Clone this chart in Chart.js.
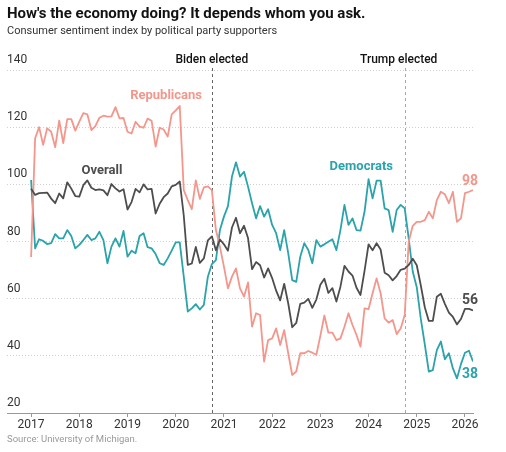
<!DOCTYPE html>
<html>
<head>
<meta charset="utf-8">
<script src="https://cdn.jsdelivr.net/npm/chart.js@4.4.0/dist/chart.umd.min.js"></script>
<style>
  body { margin: 0; background: #fff; width: 506px; height: 452px; overflow: hidden; position: relative; font-family: Roboto, "Noto Sans", sans-serif; }
  canvas { position: absolute; left: 0; top: 0; }
  .txt { position: absolute; left: 7px; white-space: nowrap; }
  #titulo { top: 4px; font-size: 15px; font-weight: 700; color: #121212; }
  #subtitulo { top: 24px; font-size: 11px; color: #333; }
  #fuente { top: 433px; font-size: 9.5px; color: #999; }
</style>
</head>
<body>
<canvas id="chart" width="506" height="452"></canvas>
<div class="txt" id="titulo">How's the economy doing? It depends whom you ask.</div>
<div class="txt" id="subtitulo">Consumer sentiment index by political party supporters</div>
<div class="txt" id="fuente">Source: University of Michigan.</div>
<script>
// datos mensuales, enero 2017 a marzo 2026
const inicio = 2017;
const years = [2017, 2018, 2019, 2020, 2021, 2022, 2023, 2024, 2025, 2026];
const yTicks = [20, 40, 60, 80, 100, 120, 140];

const republicans = [
  74.6, 116.1, 120, 113.8, 119.6, 118.4, 113, 122.3, 114.4, 122.8, 122.8, 118.8,
  121.9, 124.9, 124.5, 119, 120.4, 123.3, 124, 123.7, 123.8, 127, 123.1, 123.2,
  118.4, 117.8, 121.9, 120.2, 119.8, 123, 122.2, 113.2, 119.8, 119.2, 116.7, 124.5,
  125.9, 127.4, 98, 94.5, 91.3, 101.4, 94.9, 98.9, 99.3, 98, 84, 78.2,
  71.2, 63.6, 67.7, 70.6, 63.6, 60.7, 65.7, 50.2, 54.9, 54.3, 38, 45.5,
  46.1, 49.6, 43.8, 49, 40.9, 33.3, 34.5, 40.9, 40.9, 41.7, 41.1, 40.4,
  47, 54.1, 48.1, 48.1, 45.5, 46.1, 50.2, 54.9, 50.8, 47.3, 43.2, 56.6,
  56.3, 61.9, 67.1, 61.9, 53.1, 51.6, 52.5, 47.6, 49.6, 54.3, 80, 85.5,
  86.9, 86.9, 87.5, 90.4, 88.1, 94.5, 97.4, 96.5, 93.4, 97.4, 86.9, 88.1,
  96.9, 97.4, 98
];

const democrats = [
  101.5, 77.6, 80.8, 80.2, 79.1, 79.4, 82.6, 81.1, 81.1, 84, 81.9, 77.6,
  78.8, 80.5, 82.3, 80.5, 81.1, 83.4, 80.5, 72.4, 78.2, 81.1, 78.2, 83.7,
  74.7, 76.8, 75.9, 81.9, 82.9, 78, 77.6, 75.6, 72.4, 71.8, 74.1, 76.8,
  79.7, 79.7, 67.7, 55.5, 56.6, 58.1, 56.2, 57.8, 67.7, 72.1, 73.5, 84,
  88.7, 92.4, 102.7, 107.7, 102.7, 104.4, 99.2, 93.4, 88.1, 92.4, 88.7, 91.3,
  85.8, 82.9, 77, 84, 75.9, 66.5, 65.9, 74.7, 79.4, 77, 72.4, 80.5,
  78.2, 79, 79.9, 80.8, 77, 84, 92.8, 85.8, 88.1, 84, 83.8, 90.4,
  101.8, 95.1, 101.3, 101.3, 91.6, 91, 83.4, 91, 92.8, 91.6, 81, 69.5,
  64, 53, 44, 34.5, 35, 42, 45, 38.8, 40.9, 35.6, 32.1, 37.1,
  41.1, 41.8, 38
];

const overall = [
  98.5, 96.3, 96.9, 97.0, 97.1, 95.0, 93.4, 96.8, 95.1, 100.7, 98.5, 95.9,
  95.7, 99.7, 101.4, 98.8, 98.0, 98.2, 97.9, 96.2, 100.1, 98.6, 97.5, 98.3,
  91.2, 93.8, 98.4, 97.2, 100.0, 98.2, 98.4, 89.8, 93.2, 95.5, 96.8, 99.3,
  99.8, 101.0, 89.1, 71.8, 72.3, 78.1, 72.5, 74.1, 80.4, 81.8, 76.9, 80.7,
  79.0, 76.8, 84.9, 88.3, 82.9, 85.5, 81.2, 70.3, 72.8, 71.7, 67.4, 70.6,
  67.2, 62.8, 59.4, 65.2, 58.4, 50.0, 51.5, 58.2, 58.6, 59.9, 56.8, 59.7,
  64.9, 67.0, 62.0, 63.7, 59.0, 64.2, 71.5, 69.5, 68.1, 63.8, 61.3, 69.7,
  79.0, 76.9, 79.4, 77.2, 69.1, 68.2, 66.4, 67.9, 70.1, 70.5, 71.8, 74.0,
  71.7, 64.7, 57.0, 52.2, 52.2, 60.7, 61.7, 58.2, 55.1, 53.6, 51.0, 52.9,
  56.4, 56.4, 55.9
];

// eventos (en años decimales)
const eventos = ["Biden elected", "Trump elected"];
const eventosX = [2020.75, 2024.75];

const FUENTE = 'Roboto, "Noto Sans", sans-serif';
const ROJO = "#f4968b";
const VERDE = "#2aa3aa";
const GRIS = "#4d4d4d";

const puntos = (serie) => serie.map((v, i) => ({ x: inicio + i / 12, y: v }));

// etiquetas de series y valores finales
const anotaciones = {
  id: "anotaciones",
  beforeDatasetsDraw(chart) {
    const { ctx, scales } = chart;
    const top = scales.y.getPixelForValue(140) - 2;
    const bottom = scales.y.getPixelForValue(20);
    eventosX.forEach((ex, k) => {
      const px = Math.round(scales.x.getPixelForValue(ex)) + 0.5;
      ctx.save();
      ctx.strokeStyle = k === 0 ? "#666" : "#aaa";
      ctx.lineWidth = 1;
      ctx.setLineDash([3, 3]);
      ctx.beginPath();
      ctx.moveTo(px, top);
      ctx.lineTo(px, bottom);
      ctx.stroke();
      ctx.restore();
    });
  },
  afterDatasetsDraw(chart) {
    const { ctx, scales } = chart;
    const x = (v) => scales.x.getPixelForValue(v);
    const y = (v) => scales.y.getPixelForValue(v);
    ctx.save();
    ctx.textAlign = "center";
    ctx.textBaseline = "middle";

    ctx.font = "500 12px " + FUENTE;
    ctx.fillStyle = "#121212";
    eventos.forEach((t, k) => {
      const dx = k === 0 ? 0 : -6;
      ctx.fillText(t, x(eventosX[k]) + dx, 60);
    });

    ctx.font = "bold 13px " + FUENTE;
    ctx.fillStyle = ROJO;
    ctx.fillText("Republicans", x(2019.8), y(131));
    ctx.fillStyle = GRIS;
    ctx.fillText("Overall", x(2018.47), y(104.7));
    ctx.fillStyle = VERDE;
    ctx.fillText("Democrats", x(2023.85), y(106.2));

    const ultimo = inicio + (overall.length - 1) / 12;
    const xf = x(ultimo) - 3;
    ctx.font = "bold 14px " + FUENTE;
    ctx.fillStyle = ROJO;
    ctx.fillText(Math.round(republicans[republicans.length - 1]), xf, y(101));
    ctx.fillStyle = GRIS;
    ctx.fillText(Math.round(overall[overall.length - 1]), xf, y(59.5));
    ctx.fillStyle = VERDE;
    ctx.fillText(Math.round(democrats[democrats.length - 1]), xf, y(33.6));
    ctx.restore();
  },
};

const ctx = document.getElementById("chart").getContext("2d");
new Chart(ctx, {
  type: "line",
  data: {
    datasets: [
      { label: "Overall", data: puntos(overall), borderColor: GRIS, order: 1 },
      { label: "Republicans", data: puntos(republicans), borderColor: ROJO, order: 2 },
      { label: "Democrats", data: puntos(democrats), borderColor: VERDE, order: 3 },
    ],
  },
  options: {
    responsive: false,
    animation: false,
    layout: { padding: { left: 7, right: 33, top: 70, bottom: 17 } },
    plugins: { legend: { display: false }, tooltip: { enabled: false } },
    elements: {
      point: { radius: 0 },
      line: { borderWidth: 1.8, tension: 0, borderJoinStyle: "round" },
    },
    scales: {
      x: {
        type: "linear",
        min: 2016.5,
        max: inicio + 110 / 12,
        afterBuildTicks: (s) => { s.ticks = years.map((v) => ({ value: v })); },
        afterFit: (s) => { s.height = 22; },
        ticks: {
          autoSkip: false,
          maxRotation: 0,
          padding: 1,
          color: "#333",
          font: { family: FUENTE, size: 12 },
          callback: (v) => String(v),
        },
        grid: { drawOnChartArea: false, tickLength: 4, color: "#999" },
        border: { color: "#999" },
      },
      y: {
        min: 20,
        max: 140,
        afterBuildTicks: (s) => { s.ticks = yTicks.map((v) => ({ value: v })); },
        ticks: {
          mirror: true,
          padding: 0,
          labelOffset: -10,
          color: "#333",
          font: { family: FUENTE, size: 12 },
        },
        grid: {
          drawTicks: false,
          color: (c) => (c.tick && c.tick.value === 20 ? "rgba(0,0,0,0)" : "#d0d0d0"),
        },
        border: { display: false, dash: [1, 2] },
      },
    },
  },
  plugins: [anotaciones],
});
</script>
</body>
</html>
